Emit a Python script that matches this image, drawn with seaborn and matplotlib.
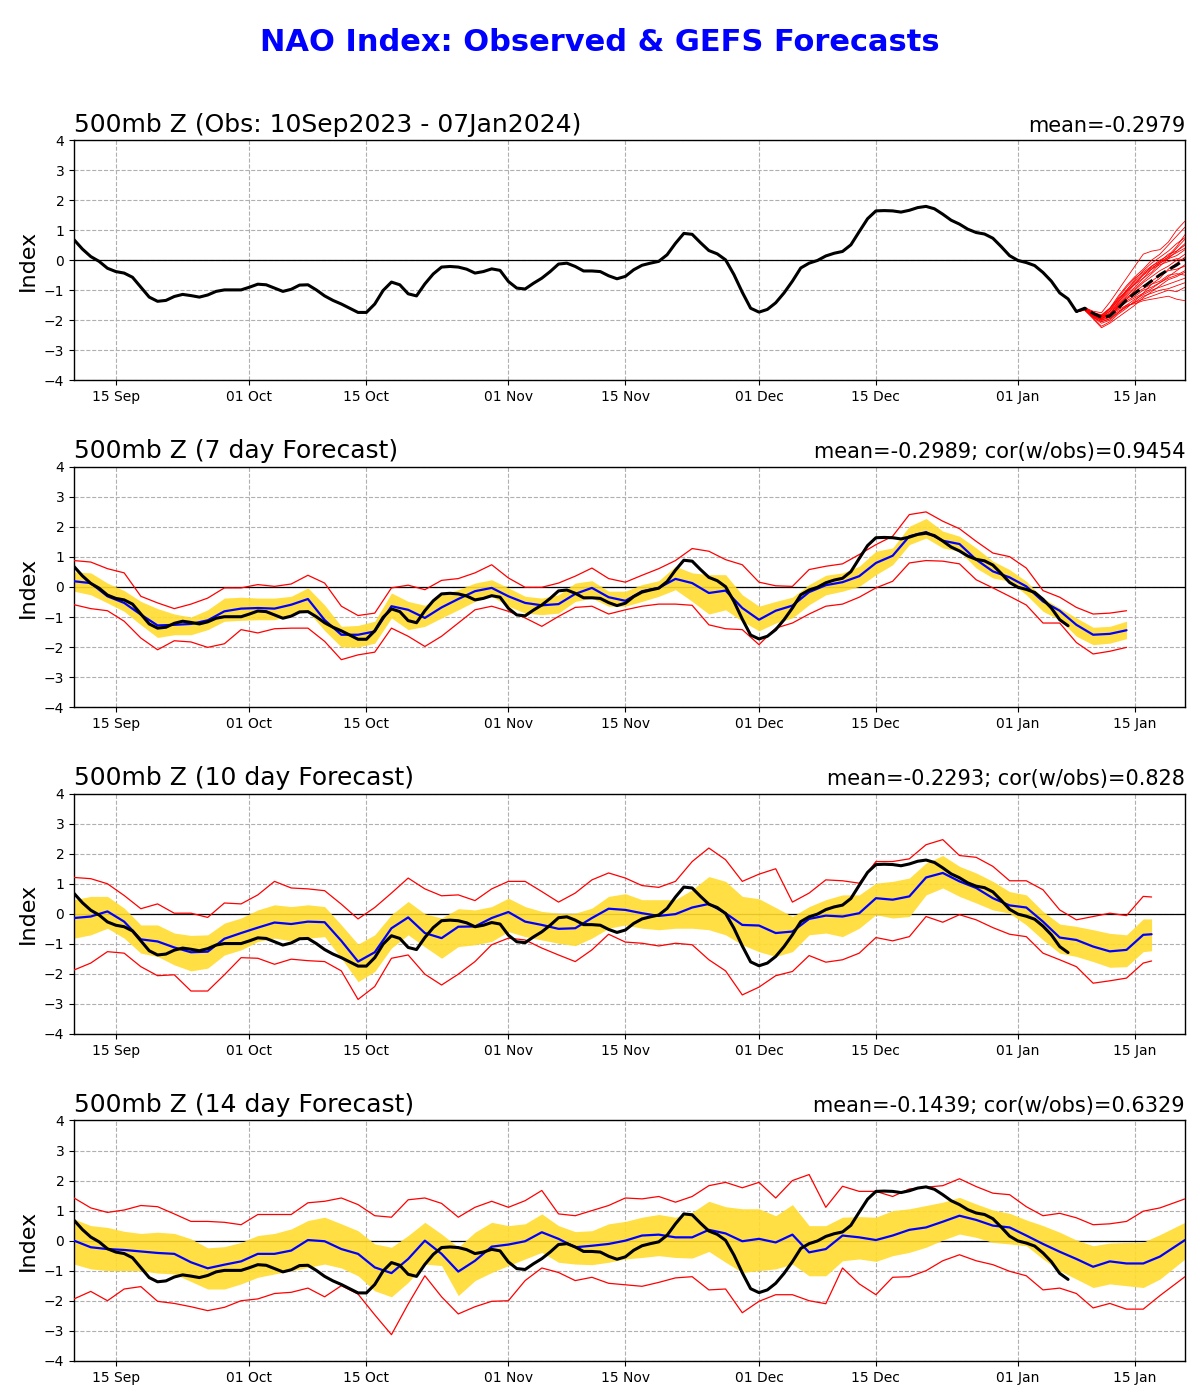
import numpy as np
import pandas as pd
import matplotlib
matplotlib.use('Agg')
import matplotlib.pyplot as plt
import matplotlib.dates as mdates
import seaborn as sns

# --------- DATA -----------------------------------
start = pd.Timestamp("2023-09-10")
x_end = pd.Timestamp("2024-01-21")

# observed NAO, daily 10 Sep 2023 .. 07 Jan 2024
obs_nao = [
    0.68, 0.37, 0.12, -0.04, -0.27, -0.38, -0.43, -0.57, -0.9, -1.23,
    -1.37, -1.34, -1.21, -1.14, -1.18, -1.23, -1.16, -1.04, -0.99, -0.99,
    -0.99, -0.9, -0.8, -0.82, -0.93, -1.04, -0.97, -0.83, -0.82, -0.99,
    -1.19, -1.34, -1.46, -1.6, -1.74, -1.74, -1.46, -1.01, -0.73, -0.82,
    -1.12, -1.19, -0.79, -0.46, -0.23, -0.21, -0.23, -0.3, -0.43, -0.38,
    -0.29, -0.34, -0.71, -0.93, -0.96, -0.77, -0.6, -0.38, -0.13, -0.1,
    -0.21, -0.36, -0.36, -0.38, -0.52, -0.62, -0.54, -0.32, -0.17, -0.1,
    -0.04, 0.18, 0.56, 0.89, 0.86, 0.58, 0.32, 0.21, 0.01, -0.48,
    -1.07, -1.6, -1.73, -1.64, -1.42, -1.09, -0.7, -0.26, -0.1, -0.01,
    0.14, 0.23, 0.29, 0.51, 0.95, 1.38, 1.64, 1.65, 1.64, 1.6,
    1.66, 1.75, 1.79, 1.71, 1.53, 1.33, 1.2, 1.03, 0.92, 0.87,
    0.73, 0.45, 0.15, -0.01, -0.08, -0.18, -0.41, -0.7, -1.09, -1.29,
]

# GEFS members from 08 Jan to 21 Jan 2024 (daily)
ens_members = [
    [-1.72, -1.58, -1.70, -1.75, -1.40, -1.00, -0.60, -0.20, 0.20, 0.30, 0.35, 0.60, 1.00, 1.30],
    [-1.72, -1.60, -1.75, -1.85, -1.60, -1.20, -0.85, -0.55, -0.30, 0.00, 0.20, 0.50, 0.80, 1.10],
    [-1.72, -1.62, -1.80, -1.95, -1.80, -1.45, -1.15, -0.90, -0.60, -0.40, -0.10, 0.10, 0.40, 0.70],
    [-1.72, -1.60, -1.78, -1.88, -1.70, -1.30, -1.05, -0.80, -0.60, -0.30, -0.05, 0.20, 0.30, 0.50],
    [-1.72, -1.65, -1.85, -2.00, -1.90, -1.60, -1.30, -1.00, -0.75, -0.55, -0.35, -0.20, 0.00, 0.20],
    [-1.72, -1.62, -1.82, -1.92, -1.75, -1.50, -1.25, -1.05, -0.85, -0.70, -0.50, -0.35, -0.30, -0.20],
    [-1.72, -1.58, -1.76, -1.86, -1.80, -1.55, -1.35, -1.20, -1.00, -0.90, -0.75, -0.60, -0.50, -0.35],
    [-1.72, -1.66, -1.90, -2.10, -2.00, -1.75, -1.50, -1.30, -1.15, -1.00, -0.90, -0.80, -0.70, -0.60],
    [-1.72, -1.64, -1.88, -2.05, -1.95, -1.70, -1.55, -1.40, -1.30, -1.20, -1.10, -1.00, -1.05, -0.90],
    [-1.72, -1.60, -1.80, -1.90, -1.85, -1.65, -1.50, -1.45, -1.35, -1.30, -1.25, -1.20, -1.30, -1.35],
    [-1.72, -1.63, -1.85, -2.00, -1.90, -1.50, -1.20, -0.95, -0.70, -0.45, -0.20, 0.05, 0.30, 0.55],
    [-1.72, -1.61, -1.80, -1.90, -1.70, -1.40, -1.10, -0.80, -0.50, -0.20, 0.00, 0.15, 0.45, 0.85],
    [-1.72, -1.66, -1.92, -2.20, -2.05, -1.80, -1.60, -1.35, -1.10, -0.80, -0.60, -0.30, -0.10, 0.10],
    [-1.72, -1.58, -1.74, -1.82, -1.60, -1.30, -1.00, -0.70, -0.45, -0.25, -0.10, 0.05, 0.15, 0.35],
    [-1.72, -1.64, -1.86, -1.98, -1.85, -1.55, -1.30, -1.10, -0.95, -0.80, -0.70, -0.50, -0.45, -0.50],
    [-1.72, -1.62, -1.84, -1.96, -1.78, -1.40, -1.05, -0.75, -0.50, -0.30, -0.15, -0.05, 0.05, 0.00],
    [-1.72, -1.67, -1.95, -2.25, -2.10, -1.90, -1.70, -1.50, -1.25, -1.05, -0.85, -0.65, -0.55, -0.40],
    [-1.72, -1.60, -1.78, -1.88, -1.65, -1.35, -1.00, -0.65, -0.35, -0.10, 0.10, 0.30, 0.55, 0.75],
    [-1.72, -1.63, -1.82, -1.94, -1.82, -1.60, -1.40, -1.25, -1.10, -0.95, -0.75, -0.55, -0.35, -0.15],
    [-1.72, -1.59, -1.76, -1.84, -1.62, -1.25, -0.90, -0.60, -0.40, -0.20, -0.05, 0.10, 0.25, 0.40],
    [-1.72, -1.65, -1.90, -2.05, -1.95, -1.75, -1.55, -1.40, -1.20, -1.10, -1.00, -0.95, -0.85, -0.75],
]
ens_mean = [-1.71, -1.6, -1.77, -1.9, -1.86, -1.6, -1.32, -1.1, -0.9, -0.69, -0.49, -0.32, -0.16, 0.03]

# verifying-day offsets (days after 10 Sep) for the lead-time panels
days_7 = list(range(0, 127, 2))
days_10 = list(range(0, 129, 2)) + [129]
days_14 = list(range(0, 131, 2)) + [133]

# 7 day forecast
mean_7 = [0.19, 0.13, -0.31, -0.53, -0.92, -1.28, -1.26, -1.23, -1.11, -0.81, -0.72, -0.7, -0.72, -0.59,
          -0.4, -1.1, -1.59, -1.59, -1.48, -0.64, -0.76, -1.03, -0.68, -0.4, -0.14, -0.03, -0.31, -0.53,
          -0.61, -0.57, -0.23, -0.03, -0.34, -0.46,
          -0.14, -0.03, 0.27, 0.13, -0.2, -0.12, -0.7, -1.09, -0.79, -0.62, -0.17, 0.06, 0.16, 0.36,
          0.8, 1.04, 1.69, 1.83, 1.54, 1.43, 0.91, 0.52, 0.32, 0.02, -0.48, -0.79, -1.26, -1.59, -1.56, -1.44]
q_hi_7 = [0.5, 0.47, 0.13, -0.12, -0.48, -0.72, -0.9, -1.0, -0.76, -0.37, -0.34, -0.37, -0.37, -0.31,
          -0.03, -0.6, -1.31, -1.28, -1.14, -0.2, -0.48, -0.61, -0.26, -0.09, 0.13, 0.24, -0.03, -0.31,
          -0.37, -0.26, 0.13, 0.21, -0.14, -0.14,
          0.08, 0.21, 0.69, 0.47, 0.41, 0.41, -0.26, -0.64, -0.48, -0.34, 0.08, 0.39, 0.47, 0.69,
          1.19, 1.3, 2.02, 2.28, 1.86, 1.69, 1.3, 0.86, 0.58, 0.19, -0.37, -0.7, -1.03, -1.34, -1.31, -1.14]
q_lo_7 = [-0.14, -0.26, -0.53, -0.81, -1.26, -1.68, -1.59, -1.59, -1.42, -1.14, -1.11, -1.09, -1.09, -0.92,
          -0.81, -1.45, -2.0, -2.0, -1.87, -1.03, -1.42, -1.31, -1.03, -0.76, -0.48, -0.31, -0.64, -0.87,
          -0.92, -0.87, -0.48, -0.37, -0.64, -0.64,
          -0.48, -0.31, -0.09, -0.48, -0.9, -0.76, -1.14, -1.46, -1.2, -1.03, -0.59, -0.26, -0.14, 0.02,
          0.41, 0.74, 1.41, 1.63, 1.3, 1.19, 0.63, 0.3, 0.19, -0.26, -0.81, -1.09, -1.64, -1.92, -1.87, -1.72]
max_7 = [0.88, 0.83, 0.61, 0.47, -0.31, -0.53, -0.72, -0.57, -0.37, -0.03, -0.03, 0.08, 0.02, 0.1,
         0.39, 0.13, -0.64, -0.95, -0.87, -0.03, 0.06, -0.09, 0.22, 0.28, 0.47, 0.74, 0.3, -0.01,
         -0.01, 0.13, 0.36, 0.63, 0.28, 0.16,
         0.39, 0.61, 0.88, 1.28, 1.19, 0.91, 0.74, 0.16, 0.04, 0.02, 0.58, 0.69, 0.77, 1.08,
         1.41, 1.69, 2.41, 2.5, 2.19, 1.94, 1.52, 1.13, 1.01, 0.63, -0.12, -0.34, -0.68, -0.9, -0.87, -0.79]
min_7 = [-0.59, -0.72, -0.79, -1.14, -1.7, -2.09, -1.79, -1.83, -2.01, -1.89, -1.42, -1.53, -1.39, -1.37,
         -1.37, -1.81, -2.42, -2.26, -2.17, -1.37, -1.64, -1.98, -1.64, -1.2, -0.76, -0.64, -0.81, -1.03,
         -1.31, -0.98, -0.68, -0.64, -0.9, -0.76,
         -0.64, -0.57, -0.57, -0.61, -1.26, -1.39, -1.42, -1.92, -1.37, -1.2, -0.9, -0.64, -0.57, -0.34,
         -0.03, 0.19, 0.8, 0.88, 0.86, 0.77, 0.24, -0.03, -0.31, -0.6, -1.2, -1.2, -1.85, -2.23, -2.14, -2.01]

# 10 day forecast
mean_10 = [-0.14, -0.09, 0.08, -0.26, -0.85, -0.92, -1.12, -1.28, -1.26, -0.83, -0.64, -0.46, -0.29, -0.34,
           -0.26, -0.28, -0.9, -1.59, -1.28, -0.48, -0.12, -0.64, -0.81, -0.43, -0.42, -0.14, 0.06, -0.26,
           -0.37, -0.5, -0.48, -0.14, 0.17, 0.13,
           0.02, -0.07, -0.01, 0.21, 0.33, 0.02, -0.37, -0.39, -0.64, -0.59, -0.17, -0.06, -0.09, 0.02,
           0.52, 0.47, 0.58, 1.21, 1.36, 1.08, 0.86, 0.52, 0.28, 0.21, -0.26, -0.79, -0.87, -1.09,
           -1.25, -1.2, -0.7, -0.68]
q_hi_10 = [0.47, 0.58, 0.58, 0.19, -0.37, -0.37, -0.64, -0.72, -0.7, -0.31, -0.14, 0.13, 0.3, 0.24,
           0.3, 0.24, -0.37, -1.01, -0.7, -0.03, 0.41, 0.0, -0.14, 0.17, 0.13, 0.24, 0.52, 0.24,
           0.08, 0.02, 0.02, 0.19, 0.58, 0.67,
           0.47, 0.47, 0.47, 0.8, 1.24, 1.08, 0.58, 0.5, 0.21, -0.09, 0.24, 0.47, 0.63, 0.63,
           1.02, 1.08, 1.19, 1.69, 1.94, 1.58, 1.36, 1.08, 0.74, 0.63, 0.08, -0.34, -0.42, -0.53,
           -0.65, -0.7, -0.17, -0.17]
q_lo_10 = [-0.81, -0.7, -0.48, -0.81, -1.31, -1.42, -1.7, -1.9, -1.81, -1.37, -1.2, -0.92, -0.81, -0.9,
           -0.81, -0.76, -1.48, -2.26, -1.92, -1.14, -0.7, -1.1, -1.48, -1.09, -1.03, -0.92, -0.59, -0.76,
           -0.87, -0.98, -1.06, -0.81, -0.48, -0.37,
           -0.48, -0.53, -0.48, -0.48, -0.53, -0.7, -1.03, -1.26, -1.42, -1.26, -0.7, -0.64, -0.76, -0.48,
           -0.03, -0.14, -0.09, 0.63, 0.86, 0.58, 0.36, 0.13, 0.02, -0.37, -0.87, -1.31, -1.42, -1.59,
           -1.78, -1.76, -1.26, -1.23]
max_10 = [1.21, 1.17, 1.0, 0.61, 0.17, 0.33, 0.02, 0.02, -0.12, 0.36, 0.33, 0.63, 1.08, 0.86,
          0.83, 0.77, 0.32, -0.17, 0.21, 0.69, 1.19, 0.83, 0.6, 0.63, 0.44, 0.83, 1.08, 1.08,
          0.74, 0.39, 0.69, 1.13, 1.36, 1.19,
          0.94, 0.88, 1.08, 1.74, 2.19, 1.8, 1.08, 1.32, 1.5, 0.39, 0.69, 1.13, 1.1, 1.02,
          1.74, 1.74, 1.83, 2.3, 2.47, 1.94, 1.88, 1.58, 1.1, 1.1, 0.8, 0.13, -0.2, -0.09,
          0.02, -0.06, 0.58, 0.56]
min_10 = [-1.87, -1.64, -1.26, -1.31, -1.76, -2.06, -2.03, -2.57, -2.57, -2.03, -1.46, -1.48, -1.68, -1.51,
          -1.56, -1.59, -1.9, -2.85, -2.42, -1.48, -1.37, -2.01, -2.37, -2.01, -1.59, -1.03, -0.81, -0.87,
          -1.14, -1.37, -1.59, -1.2, -0.68, -0.94,
          -0.98, -1.07, -0.98, -1.03, -1.53, -1.9, -2.7, -2.44, -2.06, -1.92, -1.39, -1.61, -1.53, -1.31,
          -0.79, -0.9, -0.76, -0.09, -0.28, -0.03, -0.2, -0.46, -0.68, -0.76, -1.31, -1.53, -1.76, -2.31,
          -2.23, -2.14, -1.64, -1.57]

# 14 day forecast
mean_14 = [0.0, -0.22, -0.28, -0.31, -0.36, -0.41, -0.44, -0.72, -0.92, -0.8, -0.69, -0.44, -0.44, -0.33,
           0.02, -0.02, -0.28, -0.44, -0.89, -1.08, -0.61, 0.0, -0.44, -1.03, -0.67, -0.2, -0.13, -0.02,
           0.28, 0.06, -0.22, -0.17, -0.11, 0.0,
           0.17, 0.2, 0.11, 0.11, 0.36, 0.24, -0.02, 0.06, -0.06, 0.2, -0.39, -0.28, 0.17, 0.11,
           0.02, 0.17, 0.36, 0.44, 0.63, 0.83, 0.69, 0.5, 0.44, 0.17, -0.11, -0.37, -0.61, -0.87,
           -0.69, -0.76, -0.76, -0.53, 0.02]
q_hi_14 = [0.72, 0.5, 0.44, 0.31, 0.24, 0.28, 0.24, 0.06, -0.24, -0.2, -0.06, 0.17, 0.24, 0.39,
           0.67, 0.78, 0.56, 0.33, -0.11, -0.22, 0.17, 0.61, 0.22, -0.22, 0.28, 0.61, 0.5, 0.56,
           0.89, 0.5, 0.3, 0.33, 0.56, 0.64,
           0.78, 0.87, 0.78, 0.94, 1.31, 1.13, 1.06, 1.06, 0.83, 1.2, 0.5, 0.5, 0.78, 0.8,
           0.78, 1.0, 1.06, 1.17, 1.28, 1.44, 1.22, 1.02, 0.91, 0.69, 0.5, 0.28, 0.02, -0.17,
           -0.08, -0.06, -0.05, 0.2, 0.61]
q_lo_14 = [-0.78, -0.94, -1.0, -1.0, -1.0, -1.08, -1.11, -1.36, -1.61, -1.61, -1.44, -1.22, -1.11, -1.0,
           -0.89, -0.78, -0.91, -1.17, -1.67, -1.87, -1.39, -0.78, -0.83, -1.83, -1.33, -1.06, -0.83, -0.61,
           -0.39, -0.72, -0.78, -0.8, -0.72, -0.61,
           -0.56, -0.5, -0.56, -0.58, -0.36, -0.72, -1.06, -1.0, -0.94, -0.78, -1.17, -1.17, -0.67, -0.61,
           -0.69, -0.5, -0.39, -0.22, 0.02, 0.22, 0.11, -0.06, -0.11, -0.17, -0.61, -1.0, -1.28, -1.56,
           -1.44, -1.5, -1.56, -1.28, -0.61]
max_14 = [1.42, 1.09, 0.94, 1.02, 1.17, 1.13, 0.89, 0.64, 0.64, 0.61, 0.53, 0.87, 0.87, 0.87,
          1.26, 1.31, 1.42, 1.2, 0.83, 0.78, 1.36, 1.42, 1.24, 0.78, 1.11, 1.31, 1.11, 1.33,
          1.67, 0.89, 0.83, 1.0, 1.17, 1.42,
          1.39, 1.47, 1.28, 1.47, 1.83, 1.94, 1.76, 1.94, 1.42, 2.0, 2.2, 1.11, 1.81, 1.64,
          1.64, 1.47, 1.72, 1.78, 1.83, 2.06, 1.8, 1.58, 1.53, 1.13, 0.83, 0.91, 0.76, 0.53,
          0.56, 0.64, 0.98, 1.09, 1.39]
min_14 = [-1.94, -1.69, -2.0, -1.61, -1.53, -2.02, -2.09, -2.2, -2.33, -2.22, -2.0, -1.94, -1.76, -1.72,
          -1.58, -1.87, -1.5, -1.78, -2.47, -3.13, -2.11, -1.17, -1.87, -2.44, -2.2, -2.02, -2.0, -1.33,
          -0.91, -1.06, -1.33, -1.22, -1.42, -1.47,
          -1.52, -1.39, -1.24, -1.2, -1.64, -1.61, -2.4, -2.02, -1.8, -1.8, -2.0, -2.1, -0.91, -1.44,
          -1.8, -1.22, -1.2, -1.0, -0.67, -0.47, -0.67, -0.8, -1.02, -1.17, -1.64, -1.58, -1.76, -2.24,
          -2.09, -2.28, -2.28, -1.83, -1.2]

panel_titles = ["500mb Z (Obs: 10Sep2023 - 07Jan2024)", "500mb Z (7 day Forecast)",
                "500mb Z (10 day Forecast)", "500mb Z (14 day Forecast)"]
panel_stats = ["mean=-0.2979", "mean=-0.2989; cor(w/obs)=0.9454",
               "mean=-0.2293; cor(w/obs)=0.828", "mean=-0.1439; cor(w/obs)=0.6329"]

# --------- TABLES ----------
obs_df = pd.DataFrame({"date": start + pd.to_timedelta(np.arange(len(obs_nao)), unit="D"),
                       "nao": obs_nao})
fc_dates = pd.date_range("2024-01-08", periods=len(ens_mean), freq="D")
ens_df = pd.DataFrame(ens_members, columns=fc_dates)
ens_df["member"] = np.arange(len(ens_members))
ens_long = ens_df.melt(id_vars="member", var_name="date", value_name="nao")
ens_long["date"] = pd.to_datetime(ens_long["date"])

leads = []
for days, mean, qhi, qlo, mx, mn in [
    (days_7, mean_7, q_hi_7, q_lo_7, max_7, min_7),
    (days_10, mean_10, q_hi_10, q_lo_10, max_10, min_10),
    (days_14, mean_14, q_hi_14, q_lo_14, max_14, min_14),
]:
    leads.append(pd.DataFrame({"date": start + pd.to_timedelta(days, unit="D"),
                               "mean": mean, "hi": qhi, "lo": qlo, "max": mx, "min": mn}))

# --------- PLOT ----------
sns.set_style("ticks")
plt.rcParams['font.family'] = ['DejaVu Sans']
plt.rcParams.update({"text.color": "black", "axes.labelcolor": "black",
                     "xtick.color": "black", "ytick.color": "black",
                     "axes.edgecolor": "black"})

fig, axes = plt.subplots(4, 1, figsize=(12, 14), dpi=100)
fig.subplots_adjust(left=0.0617, right=0.9875, top=0.9, bottom=0.028, hspace=0.36)
fig.suptitle("NAO Index: Observed & GEFS Forecasts", color="blue", fontsize=22,
             fontweight="bold", y=0.98)

for i, ax in enumerate(axes):
    ax.axhline(0, color="black", lw=0.9, zorder=1)
    if i == 0:
        sns.lineplot(data=ens_long, x="date", y="nao", units="member", estimator=None,
                     color="red", lw=0.6, ax=ax, zorder=3)
        # link last obs to first forecast point
        obs_top = pd.concat([obs_df, pd.DataFrame({"date": [fc_dates[0]], "nao": [ens_mean[0]]})])
        sns.lineplot(data=obs_top, x="date", y="nao", color="black", lw=2.2, ax=ax, zorder=5)
        sns.lineplot(x=fc_dates, y=ens_mean, color="black", lw=2.2, ls="--", ax=ax, zorder=6)
    else:
        df = leads[i - 1]
        ax.fill_between(df["date"], df["lo"], df["hi"], color="#ffdc2e", alpha=0.9, lw=0, zorder=2)
        sns.lineplot(data=df, x="date", y="max", color="red", lw=0.9, ax=ax, zorder=3)
        sns.lineplot(data=df, x="date", y="min", color="red", lw=0.9, ax=ax, zorder=3)
        sns.lineplot(data=df, x="date", y="mean", color="blue", lw=1.6, ax=ax, zorder=4)
        sns.lineplot(data=obs_df, x="date", y="nao", color="black", lw=2.2, ax=ax, zorder=5)

    ax.set_xlim(start, x_end)
    ax.set_ylim(-4, 4)
    ax.set_yticks(range(-4, 5))
    ax.xaxis.set_major_locator(mdates.DayLocator(bymonthday=[1, 15]))
    ax.xaxis.set_major_formatter(mdates.DateFormatter("%d %b"))
    ax.grid(True, ls="--", color="#b0b0b0", lw=0.8)
    ax.tick_params(labelsize=10)
    ax.set_xlabel("")
    ax.set_ylabel("Index", fontsize=16)
    ax.set_title(panel_titles[i], loc="left", fontsize=18)
    ax.set_title(panel_stats[i], loc="right", fontsize=15)
    for sp in ax.spines.values():
        sp.set_color("black")
        sp.set_linewidth(1.0)

plt.savefig("out.png", dpi=100)
plt.close()
